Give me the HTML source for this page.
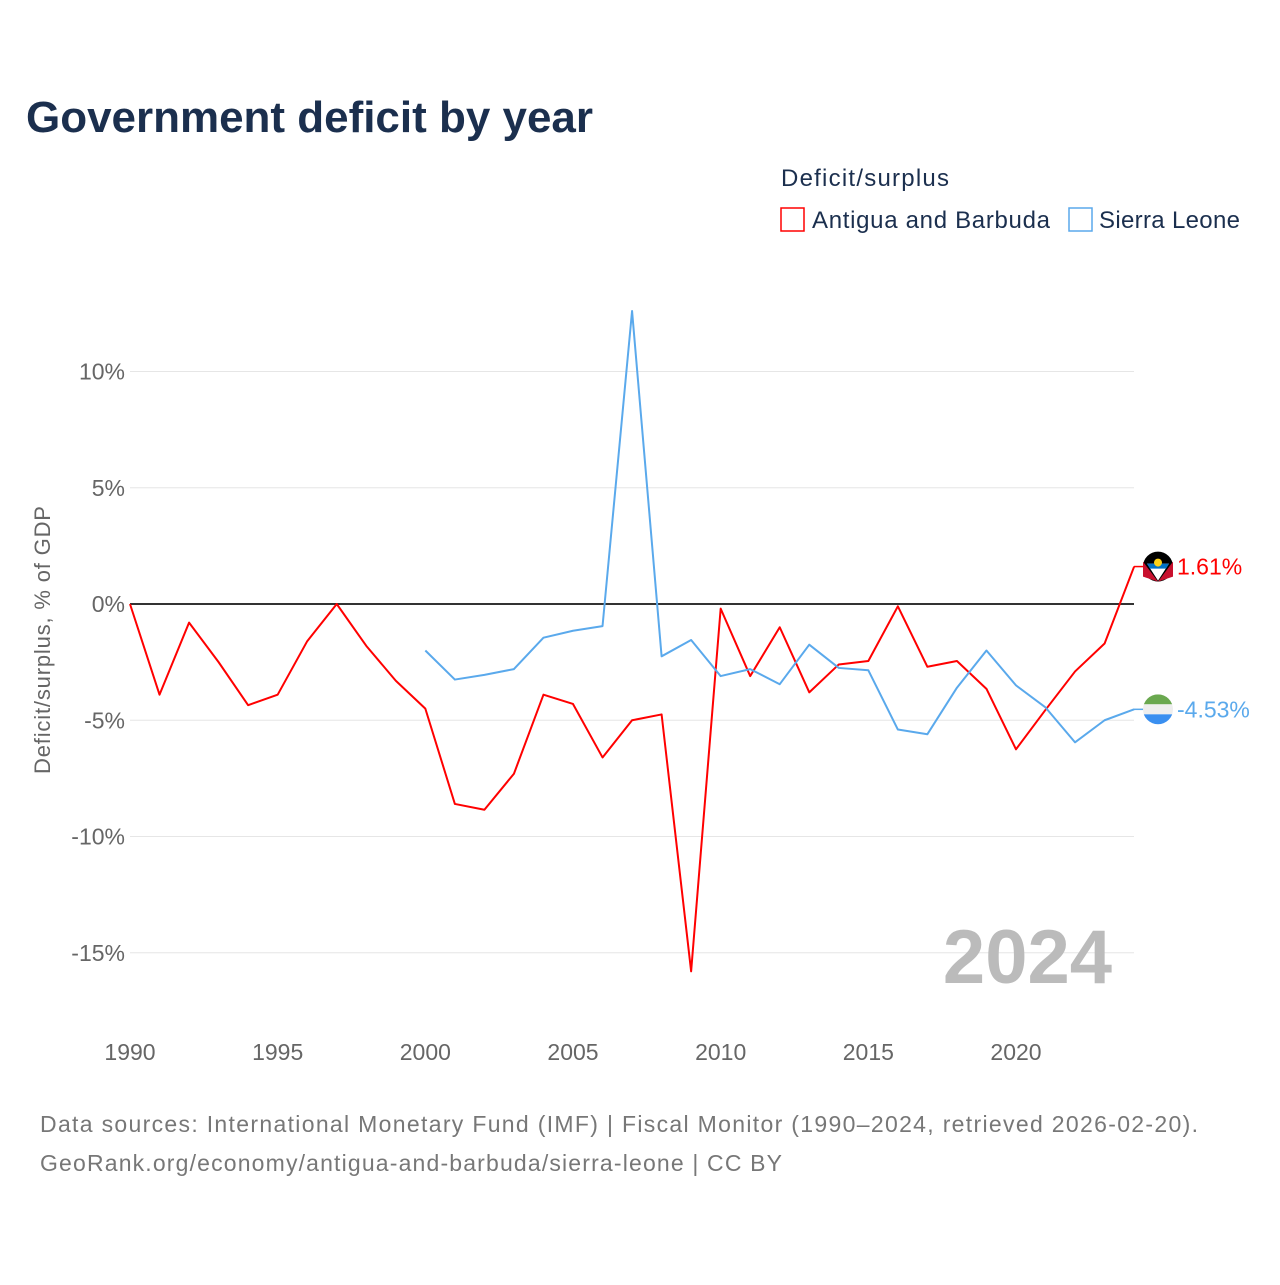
<!DOCTYPE html>
<html><head><meta charset="utf-8"><style>
body{margin:0;background:#fff;font-family:"Liberation Sans",sans-serif}
</style></head><body>
<svg width="1280" height="1280" xmlns="http://www.w3.org/2000/svg" font-family="Liberation Sans, sans-serif">
<text x="26" y="132" font-size="44" font-weight="bold" fill="#1b2f4e" textLength="567">Government deficit by year</text>
<text x="781" y="186" font-size="24" fill="#1b2f4e" textLength="168">Deficit/surplus</text>
<g><rect x="781" y="208" width="23" height="23" fill="none" stroke="#f00" stroke-width="1.5"/><text x="812" y="228" font-size="24" fill="#1b2f4e" textLength="238">Antigua and Barbuda</text></g>
<g><rect x="1069" y="208" width="23" height="23" fill="none" stroke="#5aa9ec" stroke-width="1.5"/><text x="1099" y="228" font-size="24" fill="#1b2f4e" textLength="141">Sierra Leone</text></g>
<text transform="translate(50,640) rotate(-90)" text-anchor="middle" font-size="22" fill="#666" textLength="268">Deficit/surplus, % of GDP</text>
<g id="grid"></g><g id="series"></g>
<text x="1112" y="983" text-anchor="end" font-size="76" font-weight="bold" fill="#bbb">2024</text>
<text x="40" y="1132" font-size="23" fill="#777" textLength="1158">Data sources: International Monetary Fund (IMF) | Fiscal Monitor (1990–2024, retrieved 2026-02-20).</text>
<text x="40" y="1171" font-size="23" fill="#777" textLength="742">GeoRank.org/economy/antigua-and-barbuda/sierra-leone | CC BY</text>
</svg>
<script>
const yTicks=[10,5,0,-5,-10,-15];
const xTicks=[1990,1995,2000,2005,2010,2015,2020];
const years=[];for(let y=1990;y<=2024;y++)years.push(y);
const antigua=[0,-3.9,-0.8,-2.5,-4.35,-3.9,-1.6,0,-1.8,-3.3,-4.5,-8.6,-8.85,-7.3,-3.9,-4.3,-6.6,-5.0,-4.75,-15.8,-0.2,-3.1,-1.0,-3.8,-2.6,-2.45,-0.1,-2.7,-2.45,-3.65,-6.25,-4.55,-2.9,-1.7,1.61];
const sierraYears=[];for(let y=2000;y<=2024;y++)sierraYears.push(y);
const sierra=[-2.0,-3.25,-3.05,-2.8,-1.45,-1.15,-0.95,12.6,-2.25,-1.55,-3.1,-2.8,-3.45,-1.75,-2.75,-2.85,-5.4,-5.6,-3.6,-2.0,-3.5,-4.45,-5.95,-5.0,-4.53];
const NS='http://www.w3.org/2000/svg';
const X=y=>130+(y-1990)*(886/30);
const Y=v=>604-v*23.25;
function mk(t,a,p){const e=document.createElementNS(NS,t);for(const k in a)e.setAttribute(k,a[k]);p.appendChild(e);return e;}
const g=document.getElementById('grid'),s=document.getElementById('series');
yTicks.forEach(v=>{
 const l=mk('line',{x1:130,x2:1134,y1:Y(v),y2:Y(v),stroke:v===0?'#333':'#e6e6e6','stroke-width':v===0?2:1},g);
 
 
 const t=mk('text',{x:125,y:Y(v)+8,'text-anchor':'end','font-size':23,fill:'#666'},g);t.textContent=v+'%';
 
 
});
xTicks.forEach(v=>{
 const t=mk('text',{x:X(v),y:1060,'text-anchor':'middle','font-size':23,fill:'#666'},g);t.textContent=v;
 
 
});
function line(xs,vs,c,name){
 const p=mk('polyline',{points:xs.map((x,i)=>X(x)+','+Y(vs[i])).join(' '),fill:'none',stroke:c,'stroke-width':2,'stroke-linejoin':'round'},s);
 
 
}
line(years,antigua,'#f00','line-antigua');
line(sierraYears,sierra,'#5aa9ec','line-sierra-leone');
function endLabel(v,c,name,flag){
 const y=Y(v);
 mk('line',{x1:1134,x2:1144,y1:y,y2:y,stroke:c,'stroke-width':1.5},s);
 const gg=mk('g',{},s);
 
 
 flag(gg,1158,y);
 const t=mk('text',{x:1177,y:y+8,'font-size':23,fill:c},s);t.textContent=v.toFixed(2)+'%';
 
 
}
endLabel(antigua[antigua.length-1],'#f00','antigua',(p,cx,cy)=>{
 mk('circle',{cx,cy,r:15,fill:'#000'},p);
 mk('path',{d:`M${cx-15} ${cy-5} L${cx} ${cy+15} L${cx-15} ${cy+10}Z M${cx+15} ${cy-5} L${cx} ${cy+15} L${cx+15} ${cy+10}Z`,fill:'#c8102e'},p);
 mk('path',{d:`M${cx-11} ${cy-3} L${cx+11} ${cy-3} L${cx} ${cy+14}Z`,fill:'#fff'},p);
 mk('path',{d:`M${cx-11} ${cy-3} L${cx+11} ${cy-3} L${cx+8} ${cy+2} L${cx-8} ${cy+2}Z`,fill:'#0072c6'},p);
 mk('circle',{cx,cy:cy-4,r:4,fill:'#fcd116'},p);
});
endLabel(sierra[sierra.length-1],'#5aa9ec','sierra-leone',(p,cx,cy)=>{
 mk('clipPath',{id:'sc'},p);mk('circle',{cx,cy,r:15},p.lastChild);
 const q=mk('g',{'clip-path':'url(#sc)'},p);
 mk('rect',{x:cx-15,y:cy-15,width:30,height:10,fill:'#6aa84f'},q);
 mk('rect',{x:cx-15,y:cy-5,width:30,height:10,fill:'#eee'},q);
 mk('rect',{x:cx-15,y:cy+5,width:30,height:10,fill:'#3a8ff0'},q);
});
</script>
</body></html>
